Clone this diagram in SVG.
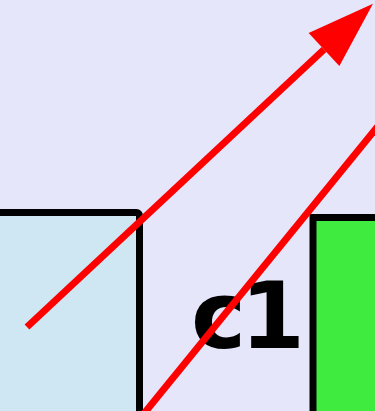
<svg xmlns="http://www.w3.org/2000/svg" width="375" height="411" viewBox="0 0 375 411">
  <style>
    .node { stroke: #000; stroke-width: 7; }
    .edge { stroke: #ff0000; stroke-width: 7; fill: none; }
    .label { font-family: "DejaVu Sans", sans-serif; font-weight: bold; font-size: 93px; fill: #000; letter-spacing: -6px; }
  </style>
  <defs>
    <marker id="arrow" markerUnits="userSpaceOnUse" markerWidth="70" markerHeight="46" refX="0" refY="22.5" orient="auto" overflow="visible">
      <path d="M0,0 L67,22.5 L0,45 z" fill="#ff0000"/>
    </marker>
  </defs>
  <rect width="375" height="411" fill="#e6e6fa"/>
  <g id="node-a">
    <rect class="node" x="-20" y="212.5" width="159.5" height="260" rx="3" fill="#cfe6f3"/>
  </g>
  <g id="node-b">
    <rect class="node" x="313" y="217.5" width="100" height="260" fill="#3feb3f"/>
  </g>
  <g id="label-c1">
    <text class="label" x="191" y="348">c1</text>
  </g>
  <g id="connectors">
    <line class="edge" x1="27" y1="327" x2="324" y2="49.5" marker-end="url(#arrow)"/>
    <line class="edge" x1="120" y1="443" x2="400" y2="99"/>
  </g>
</svg>
